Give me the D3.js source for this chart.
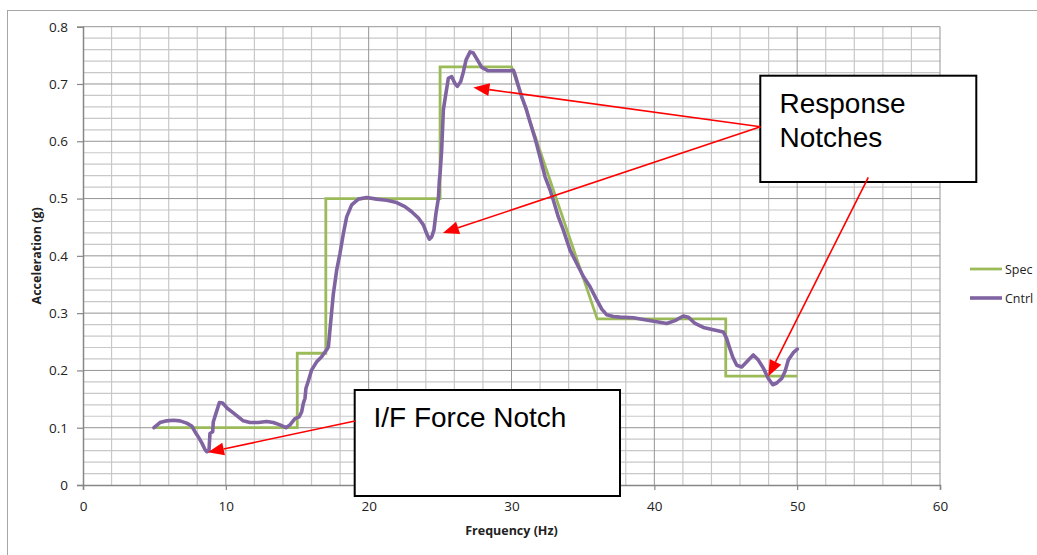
<!DOCTYPE html>
<html>
<head>
<meta charset="utf-8">
<script src="https://cdn.jsdelivr.net/npm/d3@7"></script>
<style>
  html, body { margin: 0; padding: 0; background: #fff; }
  svg { display: block; }
</style>
</head>
<body>
<svg id="chart" width="1037" height="555"></svg>
<script>
// Required spectrum (step profile with a linear roll-off)
const specFreq  = [5, 15, 15, 17, 17, 25, 25, 30, 36, 45, 45, 50];
const specAccel = [0.10, 0.10, 0.23, 0.23, 0.50, 0.50, 0.73, 0.73, 0.29, 0.29, 0.19, 0.19];

// Control accelerometer response
const cntrlFreq = [
  4.97, 5.39, 5.86, 6.32, 6.79, 7.26, 7.61, 7.84, 8.07, 8.31, 8.54, 8.66, 8.82, 8.89, 9.08, 9.12,
  9.31, 9.55, 9.78, 10.1, 10.52, 10.87, 11.22, 11.69, 12.27, 12.86, 13.32, 13.79, 14.21, 14.49,
  14.84, 15.14, 15.31, 15.43, 15.54, 15.61, 15.78, 16.01, 16.36, 16.71, 17.06, 17.18, 17.29,
  17.52, 17.76, 17.99, 18.23, 18.46, 18.81, 19.28, 19.86, 20.56, 21.26, 21.96, 22.54, 23.01,
  23.48, 23.83, 24.06, 24.25, 24.41, 24.57, 24.71, 24.88, 24.95, 25.0, 25.11, 25.23, 25.41,
  25.58, 25.81, 26.04, 26.21, 26.44, 26.63, 26.82, 27.10, 27.33, 27.61, 27.92, 28.38, 29.20,
  29.90, 30.13, 30.25, 30.48, 30.71, 31.02, 31.30, 31.65, 32.0, 32.35, 32.70, 32.93, 33.28,
  33.63, 34.10, 34.56, 35.03, 35.50, 35.97, 36.32, 36.67, 37.13, 37.60, 38.53, 39.23, 40.17,
  40.87, 41.45, 42.03, 42.38, 42.85, 43.43, 44.13, 44.83, 45.06, 45.25, 45.48, 45.77, 46.12,
  46.47, 46.93, 47.28, 47.63, 47.98, 48.29, 48.57, 48.92, 49.15, 49.38, 49.73, 50.01
];
const cntrlAccel = [
  0.100, 0.109, 0.112, 0.113, 0.112, 0.108, 0.103, 0.093, 0.084, 0.074, 0.062, 0.058, 0.060, 0.090, 0.093, 0.110,
  0.125, 0.144, 0.143, 0.134, 0.126, 0.119, 0.112, 0.109, 0.109, 0.111, 0.109, 0.105, 0.100, 0.105,
  0.116, 0.119, 0.128, 0.143, 0.151, 0.169, 0.182, 0.201, 0.215, 0.224, 0.236, 0.241, 0.271,
  0.332, 0.375, 0.404, 0.439, 0.468, 0.489, 0.499, 0.502, 0.499, 0.497, 0.493, 0.486, 0.477,
  0.466, 0.454, 0.439, 0.429, 0.433, 0.445, 0.474, 0.500, 0.532, 0.544, 0.585, 0.655, 0.684,
  0.710, 0.713, 0.701, 0.696, 0.704, 0.721, 0.742, 0.756, 0.754, 0.742, 0.729, 0.723, 0.723,
  0.723, 0.724, 0.716, 0.697, 0.678, 0.657, 0.633, 0.605, 0.572, 0.538, 0.515, 0.497, 0.468,
  0.445, 0.410, 0.387, 0.364, 0.346, 0.323, 0.307, 0.297, 0.294, 0.293, 0.292, 0.289, 0.285,
  0.282, 0.287, 0.295, 0.293, 0.282, 0.275, 0.271, 0.267, 0.256, 0.241, 0.224, 0.209, 0.206,
  0.215, 0.227, 0.218, 0.204, 0.186, 0.175, 0.178, 0.186, 0.198, 0.218, 0.231, 0.237
];

// Axis ticks
const xTicks = [0, 10, 20, 30, 40, 50, 60];
const xTickLabels = ["0", "10", "20", "30", "40", "50", "60"];
const yTicks = [0, 0.1, 0.2, 0.3, 0.4, 0.5, 0.6, 0.7, 0.8];
const yTickLabels = ["0", "0.1", "0.2", "0.3", "0.4", "0.5", "0.6", "0.7", "0.8"];
const xMinorStep = 2;
const yMinorStep = 0.02;

const seriesNames = ["Spec", "Cntrl"];
const seriesColors = ["#9bbb59", "#8064a2"];

const svg = d3.select("#chart");
const W = 1037, H = 555;
const plot = { left: 83, right: 940, top: 26.7, bottom: 485 };
const labelFont = "Open Sans, sans-serif";

const x = d3.scaleLinear().domain([0, 60]).range([plot.left, plot.right]);
const y = d3.scaleLinear().domain([0, 0.8]).range([plot.bottom, plot.top]);

// Chart frame
svg.append("rect").attr("width", W).attr("height", H).attr("fill", "#fff");
svg.append("rect")
  .attr("x", 7.5).attr("y", 10.5).attr("width", W + 10).attr("height", H + 10)
  .attr("fill", "none").attr("stroke", "#a6a6a6").attr("stroke-width", 1);

// Gridlines
const grid = svg.append("g");
const xMinor = d3.range(0, 60 + 1e-9, xMinorStep).filter(v => Math.round(v) % 10 !== 0);
const yMinor = d3.range(0, 0.8 + 1e-9, yMinorStep).filter(v => Math.abs(v * 10 - Math.round(v * 10)) > 1e-6);

grid.selectAll(".yminor").data(yMinor).join("line")
  .attr("x1", plot.left).attr("x2", plot.right)
  .attr("y1", d => y(d)).attr("y2", d => y(d))
  .attr("stroke", "#c8c8c8").attr("stroke-width", 1.2);
grid.selectAll(".xminor").data(xMinor).join("line")
  .attr("y1", plot.top).attr("y2", plot.bottom)
  .attr("x1", d => x(d)).attr("x2", d => x(d))
  .attr("stroke", "#c8c8c8").attr("stroke-width", 1.2);
grid.selectAll(".ymajor").data(yTicks.slice(1)).join("line")
  .attr("x1", plot.left).attr("x2", plot.right)
  .attr("y1", d => y(d)).attr("y2", d => y(d))
  .attr("stroke", "#959595").attr("stroke-width", 1);
grid.selectAll(".xmajor").data(xTicks.slice(1)).join("line")
  .attr("y1", plot.top).attr("y2", plot.bottom)
  .attr("x1", d => x(d)).attr("x2", d => x(d))
  .attr("stroke", "#959595").attr("stroke-width", 1);

// Axes
const yAxis = svg.append("g")
  .attr("transform", `translate(${plot.left},0)`)
  .call(d3.axisLeft(y).tickValues(yTicks).tickSize(6).tickPadding(9)
    .tickFormat((d, i) => yTickLabels[i]));
const xAxis = svg.append("g")
  .attr("transform", `translate(0,${plot.bottom})`)
  .call(d3.axisBottom(x).tickValues(xTicks).tickSize(5).tickPadding(11)
    .tickFormat((d, i) => xTickLabels[i]));
[xAxis, yAxis].forEach(a => {
  a.attr("font-family", labelFont).attr("font-size", 13.5);
  a.select(".domain").attr("stroke", "#868686").attr("stroke-width", 1.5);
  a.selectAll(".tick line").attr("stroke", "#868686").attr("stroke-width", 1.2);
  a.selectAll(".tick text").attr("fill", "#222");
});

// Axis titles
svg.append("text")
  .attr("x", (plot.left + plot.right) / 2).attr("y", 535)
  .attr("text-anchor", "middle")
  .attr("font-family", labelFont).attr("font-weight", "bold")
  .attr("font-size", 12.5).attr("fill", "#222")
  .text("Frequency (Hz)");
svg.append("text")
  .attr("transform", `translate(41,${(plot.top + plot.bottom) / 2}) rotate(-90)`)
  .attr("text-anchor", "middle")
  .attr("font-family", labelFont).attr("font-weight", "bold")
  .attr("font-size", 12.5).attr("fill", "#222")
  .text("Acceleration (g)");

// Series lines
const line = d3.line().x(d => x(d[0])).y(d => y(d[1]));
const specPts = specFreq.map((f, i) => [f, specAccel[i]]);
const cntrlPts = cntrlFreq.map((f, i) => [f, cntrlAccel[i]]);

svg.append("path").datum(specPts)
  .attr("d", line).attr("fill", "none")
  .attr("stroke", seriesColors[0]).attr("stroke-width", 2.8)
  .attr("stroke-linejoin", "miter");
svg.append("path").datum(cntrlPts)
  .attr("d", line).attr("fill", "none")
  .attr("stroke", seriesColors[1]).attr("stroke-width", 3.6)
  .attr("stroke-linejoin", "round").attr("stroke-linecap", "round");

// Legend
const legend = svg.append("g");
seriesNames.forEach((name, i) => {
  const ly = 269 + i * 29;
  legend.append("line")
    .attr("x1", 970).attr("x2", 1002).attr("y1", ly).attr("y2", ly)
    .attr("stroke", seriesColors[i]).attr("stroke-width", i === 0 ? 2.8 : 3.6);
  legend.append("text")
    .attr("x", 1005).attr("y", ly + 4.5)
    .attr("font-family", labelFont).attr("font-size", 12.5)
    .attr("fill", "#222").text(name);
});

// Callout boxes
const callouts = svg.append("g");
function box(x0, y0, x1, y1, lines, tx, ty) {
  callouts.append("rect")
    .attr("x", x0).attr("y", y0).attr("width", x1 - x0).attr("height", y1 - y0)
    .attr("fill", "#fff").attr("stroke", "#000").attr("stroke-width", 2);
  lines.forEach((t, i) => {
    callouts.append("text")
      .attr("x", tx).attr("y", ty + i * 33.5)
      .attr("font-family", "Liberation Sans, Arial, sans-serif").attr("font-size", 28)
      .attr("fill", "#000").text(t);
  });
}
box(760.3, 75.7, 976.3, 182, ["Response", "Notches"], 779.5, 113.3);
box(354.7, 390, 620, 496, ["I/F Force Notch"], 373.5, 426.7);

// Red pointer arrows, tips placed on the notches in data units
function arrow(sx, sy, tf, ta) {
  const tx = x(tf), ty = y(ta);
  const ang = Math.atan2(ty - sy, tx - sx);
  const len = 16, half = 6.5;
  const bx = tx - len * Math.cos(ang), by = ty - len * Math.sin(ang);
  callouts.append("line")
    .attr("x1", sx).attr("y1", sy).attr("x2", bx).attr("y2", by)
    .attr("stroke", "#ff0000").attr("stroke-width", 1.6);
  const px = -Math.sin(ang) * half, py = Math.cos(ang) * half;
  callouts.append("path")
    .attr("d", `M${tx},${ty}L${bx + px},${by + py}L${bx - px},${by - py}Z`)
    .attr("fill", "#ff0000");
}
arrow(760.5, 126.7, 27.33, 0.694);
arrow(760.5, 126.7, 25.20, 0.440);
arrow(868.3, 177.3, 47.98, 0.190);
arrow(355, 421, 8.75, 0.057);
</script>
</body>
</html>
